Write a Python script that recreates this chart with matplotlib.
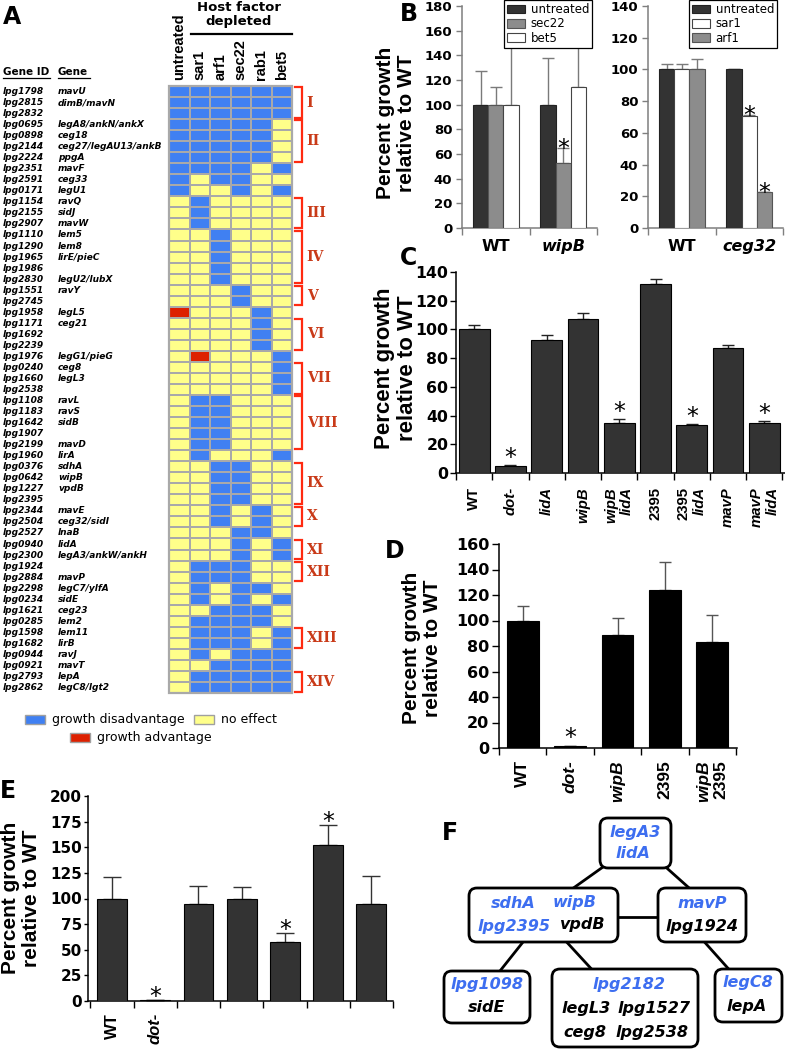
import matplotlib
matplotlib.use('Agg')
import matplotlib.pyplot as plt
from matplotlib.colors import ListedColormap
from matplotlib.patches import Rectangle, FancyBboxPatch
import matplotlib.transforms as mtransforms
import numpy as np

plt.rcParams['font.family'] = ['DejaVu Sans']

# ---------------- data ----------------
gene_ids = ['lpg1798', 'lpg2815', 'lpg2832', 'lpg0695', 'lpg0898', 'lpg2144', 'lpg2224', 'lpg2351', 'lpg2591', 'lpg0171',
            'lpg1154', 'lpg2155', 'lpg2907', 'lpg1110', 'lpg1290', 'lpg1965', 'lpg1986', 'lpg2830', 'lpg1551', 'lpg2745',
            'lpg1958', 'lpg1171', 'lpg1692', 'lpg2239', 'lpg1976', 'lpg0240', 'lpg1660', 'lpg2538', 'lpg1108', 'lpg1183',
            'lpg1642', 'lpg1907', 'lpg2199', 'lpg1960', 'lpg0376', 'lpg0642', 'lpg1227', 'lpg2395', 'lpg2344', 'lpg2504',
            'lpg2527', 'lpg0940', 'lpg2300', 'lpg1924', 'lpg2884', 'lpg2298', 'lpg0234', 'lpg1621', 'lpg0285', 'lpg1598',
            'lpg1682', 'lpg0944', 'lpg0921', 'lpg2793', 'lpg2862']
gene_names = ['mavU', 'dimB/mavN', '', 'legA8/ankN/ankX', 'ceg18', 'ceg27/legAU13/ankB', 'ppgA', 'mavF', 'ceg33', 'legU1',
              'ravQ', 'sidJ', 'mavW', 'lem5', 'lem8', 'lirE/pieC', '', 'legU2/lubX', 'ravY', '',
              'legL5', 'ceg21', '', '', 'legG1/pieG', 'ceg8', 'legL3', '', 'ravL', 'ravS',
              'sidB', '', 'mavD', 'lirA', 'sdhA', 'wipB', 'vpdB', '', 'mavE', 'ceg32/sidI',
              'lnaB', 'lidA', 'legA3/ankW/ankH', '', 'mavP', 'legC7/ylfA', 'sidE', 'ceg23', 'lem2', 'lem11',
              'lirB', 'ravJ', 'mavT', 'lepA', 'legC8/lgt2']
host_factors = ['untreated', 'sar1', 'arf1', 'sec22', 'rab1', 'bet5']
# D = growth disadvantage, N = no effect, A = growth advantage
effects = ['DDDDDD', 'DDDDDD', 'DDDDDD', 'DDDDDN', 'DDDDDN', 'DDDDDN', 'DDDDDN', 'DDDDND', 'DNDDNN', 'DNNDND',
           'NDNNNN', 'NDNNNN', 'NDNNNN', 'NNDNNN', 'NNDNNN', 'NNDNNN', 'NNDNNN', 'NNDNNN', 'NNNDNN', 'NNNDNN',
           'ANNNDN', 'NNNNDN', 'NNNNDN', 'NNNNDN', 'NANNND', 'NNNNND', 'NNNNND', 'NNNNND', 'NDDNNN', 'NDDNNN',
           'NDDNNN', 'NDDNNN', 'NDDNNN', 'NDNNND', 'NNDDNN', 'NNDDNN', 'NNDDNN', 'NNDDNN', 'NNDNDN', 'NNDNDN',
           'NNNDDN', 'NNNDND', 'NNNDND', 'NDDDNN', 'NDDDNN', 'NDNDDN', 'NDNDND', 'NNDDDN', 'NDDDDN', 'NDDDND',
           'NDDDND', 'NDNDDD', 'NNDDDD', 'NDDDDD', 'NDDDDD']
cluster_names = ['I', 'II', 'III', 'IV', 'V', 'VI', 'VII', 'VIII', 'IX', 'X', 'XI', 'XII', 'XIII', 'XIV']
cluster_first = [0, 3, 10, 13, 18, 21, 25, 28, 34, 38, 41, 43, 49, 53]
cluster_last = [2, 6, 12, 17, 19, 23, 27, 32, 37, 39, 42, 44, 50, 54]

# Panel B
b1_groups = ['WT', 'wipB']
b1_series = ['untreated', 'sec22', 'bet5']
b1_untreated = [100, 100]
b1_untreated_err = [27, 38]
b1_sec22 = [100, 52.5]
b1_sec22_err = [14, 12.5]
b1_bet5 = [100, 114]
b1_bet5_err = [90, 80]
b1_sig = [[False, False], [False, True], [False, False]]

b2_groups = ['WT', 'ceg32']
b2_series = ['untreated', 'sar1', 'arf1']
b2_untreated = [100, 100]
b2_untreated_err = [3.4, 0.3]
b2_sar1 = [100, 70.5]
b2_sar1_err = [3.2, 0.6]
b2_arf1 = [100, 22.6]
b2_arf1_err = [6.8, 0.4]
b2_sig = [[False, False], [False, True], [False, True]]

# Panel C
c_labels = ['WT', 'dot-', 'lidA', 'wipB', 'wipB\nlidA', '2395', '2395\nlidA', 'mavP', 'mavP\nlidA']
c_values = [100, 5.1, 92.6, 107, 35, 131.6, 33.2, 87, 35]
c_errors = [3.3, 0.8, 3.8, 4.2, 2.6, 3.8, 1.1, 1.9, 1.3]
c_sig = [False, True, False, False, True, False, True, False, True]

# Panel D
d_labels = ['WT', 'dot-', 'wipB', '2395', 'wipB\n2395']
d_values = [100, 1.2, 88.5, 124, 83.5]
d_errors = [11.5, 0, 13.2, 22, 20.5]
d_sig = [False, True, False, False, False]

# Panel E
e_labels = ['WT', 'dot-', '', '', '', '', '']
e_values = [100, 1.2, 94.5, 100, 57.5, 152, 94.5]
e_errors = [21, 0, 18, 11.5, 9, 20, 27]
e_sig = [False, True, False, False, True, True, False]

# Panel F
f_nodes = [['legA3', 'lidA'], ['sdhA', 'wipB', 'lpg2395', 'vpdB'], ['mavP', 'lpg1924'],
           ['lpg1098', 'sidE'], ['lpg2182', 'legL3', 'lpg1527', 'ceg8', 'lpg2538'], ['legC8', 'lepA']]
f_blue = ['legA3', 'lidA', 'sdhA', 'wipB', 'lpg2395', 'mavP', 'lpg1098', 'lpg2182', 'legC8']
f_edges = [(0, 1), (0, 2), (1, 2), (1, 3), (1, 4), (2, 5)]

# ---------------- figure helpers ----------------
W, H = 785, 1050
fig = plt.figure(figsize=(W / 100, H / 100), dpi=100)


def px(x0, y0, x1, y1):
    return [x0 / W, 1 - y1 / H, (x1 - x0) / W, (y1 - y0) / H]


def ftext(x, y, s, **kw):
    return fig.text(x / W, 1 - y / H, s, **kw)


def plain(tok):
    return tok == 'WT' or tok.isdigit()


BLUE = '#4080f2'
YELLOW = '#ffff8a'
RED = '#dd2000'
GRID = '#a9a9a9'
ROMAN = '#c93a18'
BRACKET = '#ff2a10'

# ---------------- Panel A: heatmap ----------------
code = {'N': 0, 'D': 1, 'A': 2}
mat = np.array([[code[c] for c in row] for row in effects])
nrow, ncol = mat.shape
axh = fig.add_axes(px(169, 86, 292, 693))
axh.pcolormesh(np.arange(ncol + 1), np.arange(nrow + 1), mat,
               cmap=ListedColormap([YELLOW, BLUE, RED]), vmin=-0.5, vmax=2.5,
               edgecolors=GRID, linewidth=1.3)
axh.set_xlim(0, ncol)
axh.set_ylim(nrow, 0)
axh.axis('off')
axh.add_patch(Rectangle((0, 0), ncol, nrow, fill=False, ec=GRID, lw=1.6, clip_on=False))

tr_rows = mtransforms.blended_transform_factory(fig.transFigure, axh.transData)
for i, (gid, gname) in enumerate(zip(gene_ids, gene_names)):
    axh.text(3 / W, i + 0.5, gid, transform=tr_rows, fontsize=6.5, fontweight='bold',
             fontstyle='italic', va='center', ha='left')
    if gname:
        axh.text(58 / W, i + 0.5, gname, transform=tr_rows, fontsize=6.5, fontweight='bold',
                 fontstyle='italic', va='center', ha='left')

for j, hf in enumerate(host_factors):
    axh.text(j + 0.5, -0.5, hf, rotation=90, ha='center', va='bottom', fontsize=10.5,
             fontweight='bold', family='Liberation Sans')
ftext(239, 1, 'Host factor\ndepleted', ha='center', va='top', fontsize=9.5, fontweight='bold',
      linespacing=1.05)
axh.plot([1.07, ncol], [-4.7, -4.7], color='black', lw=1.6, clip_on=False)

ftext(3, 75, 'Gene ID', fontsize=7.5, fontweight='bold', va='baseline', ha='left')
ftext(58, 75, 'Gene', fontsize=7.5, fontweight='bold', va='baseline', ha='left')
fig.add_artist(plt.Line2D([3 / W, 50 / W], [1 - 78 / H, 1 - 78 / H], color='black', lw=0.9))
fig.add_artist(plt.Line2D([58 / W, 90 / W], [1 - 78 / H, 1 - 78 / H], color='black', lw=0.9))

tr_br = mtransforms.blended_transform_factory(axh.transAxes, axh.transData)
for name, a, b in zip(cluster_names, cluster_first, cluster_last):
    y0, y1 = a + 0.12, b + 1 - 0.12
    axh.plot([1.024, 1.083, 1.083, 1.024], [y0, y0, y1, y1], transform=tr_br, color=BRACKET,
             lw=1.6, clip_on=False, solid_joinstyle='miter')
    axh.text(1.12, (a + b + 1) / 2, name, transform=tr_br, family='DejaVu Serif', fontweight='bold',
             fontsize=10, color=ROMAN, va='center', ha='left')

# legend of heatmap
for (x0, y0, c, lab) in [(25, 715, BLUE, 'growth disadvantage'), (194, 715, YELLOW, 'no effect'),
                         (70, 733, RED, 'growth advantage')]:
    fig.add_artist(Rectangle((x0 / W, 1 - (y0 + 9) / H), 20 / W, 9 / H, transform=fig.transFigure,
                             fc=c, ec='#a0a0a0', lw=1))
    ftext(x0 + 27, y0 + 4.5, lab, fontsize=9, va='center', ha='left')

# ---------------- generic bar helpers ----------------
def style_axes(ax, ymax, ystep, fs, spine='black', ticklen=4, pad=2):
    for s in ['top', 'right']:
        ax.spines[s].set_visible(False)
    for s in ['left', 'bottom']:
        ax.spines[s].set_color(spine)
        ax.spines[s].set_linewidth(1.1)
    ax.set_ylim(0, ymax)
    ax.set_yticks(np.arange(0, ymax + 0.1, ystep))
    ax.tick_params(axis='y', direction='out', length=ticklen, width=1, color=spine, labelsize=fs, pad=pad)
    plt.setp(ax.get_yticklabels(), fontweight='bold')
    ax.tick_params(axis='x', which='major', length=0)
    ax.tick_params(axis='x', which='minor', direction='out', length=5, width=1, color=spine)


def rot_labels(ax, labels, fs, pad_px, pitch_px):
    for i, lab in enumerate(labels):
        lines = lab.split('\n') if lab else []
        n = len(lines)
        for k, ln in enumerate(lines):
            dx = (k - (n - 1) / 2) * pitch_px
            tr = ax.get_xaxis_transform() + mtransforms.ScaledTranslation(dx / 100, -pad_px / 100,
                                                                         fig.dpi_scale_trans)
            ax.text(i, 0, ln, transform=tr, rotation=90, ha='center', va='top', fontsize=fs,
                    fontweight='bold', family='Liberation Sans',
                    fontstyle='normal' if plain(ln) else 'italic')


def stars(ax, xs, tops, sig, off_px, fs=17):
    for x, t, s in zip(xs, tops, sig):
        if s:
            tr = ax.transData + mtransforms.ScaledTranslation(0, off_px / 100, fig.dpi_scale_trans)
            ax.text(x, t, '*', transform=tr, ha='center', va='baseline', fontsize=fs)


def ylabel(x, y, fs):
    ftext(x, y, 'Percent growth\nrelative to WT', rotation=90, ha='center', va='center',
          fontsize=fs, fontweight='bold', family='Liberation Sans', linespacing=1.1)


# ---------------- Panel B ----------------
def grouped(ax, groups, series, vals, errs, sigs, colors, edges, ymax, step, legend_anchor):
    style_axes(ax, ymax, step, 9.5, spine='#7f7f7f', ticklen=4, pad=3)
    n = len(series)
    w = 0.225
    x = np.arange(len(groups))
    handles = []
    for k in range(n):
        xs = x + (k - (n - 1) / 2) * w
        hb = ax.bar(xs, vals[k], width=w, color=colors[k], edgecolor=edges[k], linewidth=0.8, zorder=3,
                    label=series[k])
        handles.append(hb)
        ax.errorbar(xs, vals[k], yerr=[np.zeros(len(groups)), errs[k]], fmt='none', ecolor='#7a7a7a',
                    elinewidth=1, capsize=4, capthick=1, zorder=2)
        stars(ax, xs, np.array(vals[k]) + np.array(errs[k]), sigs[k], -8)
    ax.set_xlim(-0.5, len(groups) - 0.5)
    ax.set_xticks(x)
    ax.set_xticklabels(groups, fontsize=11.5, fontweight='bold')
    for lbl, g in zip(ax.get_xticklabels(), groups):
        lbl.set_fontstyle('normal' if plain(g) else 'italic')
    ax.tick_params(axis='x', which='major', pad=8)
    ax.set_xticks(np.arange(-0.5, len(groups), 1), minor=True)
    leg = ax.legend(handles=handles, loc='upper right', bbox_to_anchor=legend_anchor, frameon=True,
                    fancybox=False, edgecolor='black', framealpha=1, fontsize=8.5, handlelength=1.5,
                    handleheight=0.75, labelspacing=0.12, borderpad=0.25, handletextpad=0.5,
                    borderaxespad=0)
    leg.get_frame().set_linewidth(0.9)
    leg.set_zorder(10)


DARK = '#333333'
GRAY = '#8c8c8c'
axb1 = fig.add_axes(px(462, 6, 597, 228))
grouped(axb1, b1_groups, b1_series, [b1_untreated, b1_sec22, b1_bet5],
        [b1_untreated_err, b1_sec22_err, b1_bet5_err], b1_sig,
        [DARK, GRAY, 'white'], ['#222222', '#555555', '#444444'], 180, 20, (0.963, 1.027))
axb2 = fig.add_axes(px(648, 6, 783, 228))
grouped(axb2, b2_groups, b2_series, [b2_untreated, b2_sar1, b2_arf1],
        [b2_untreated_err, b2_sar1_err, b2_arf1_err], b2_sig,
        [DARK, 'white', GRAY], ['#222222', '#444444', '#555555'], 140, 20, (0.956, 1.027))
ylabel(396, 123, 15)

# ---------------- Panel C ----------------
axc = fig.add_axes(px(456, 272, 785, 473))
style_axes(axc, 140, 20, 11.3, ticklen=4, pad=1.5)
xc = np.arange(len(c_labels))
axc.bar(xc, c_values, width=0.85, color=DARK, edgecolor='black', linewidth=0.8, zorder=3)
axc.errorbar(xc, c_values, yerr=[np.zeros(len(xc)), c_errors], fmt='none', ecolor='#222222',
             elinewidth=1, capsize=4, capthick=1, zorder=2)
stars(axc, xc, np.array(c_values) + np.array(c_errors), c_sig, 0)
axc.set_xlim(-0.43, len(c_labels) - 0.43)
axc.set_xticks(xc, [''] * len(xc))
axc.set_xticks(np.arange(-0.5, len(xc), 1), minor=True)
rot_labels(axc, c_labels, 10.7, 14, 16)
ylabel(396, 368, 16)

# ---------------- Panel D ----------------
axd = fig.add_axes(px(499, 544, 737, 748))
style_axes(axd, 160, 20, 11.5, ticklen=5, pad=2)
xd = np.arange(len(d_labels))
axd.bar(xd, d_values, width=0.67, color='black', edgecolor='black', linewidth=0.8, zorder=3)
axd.errorbar(xd, d_values, yerr=[np.zeros(len(xd)), d_errors], fmt='none', ecolor='#555555',
             elinewidth=1, capsize=4.5, capthick=1, zorder=2)
stars(axd, xd, np.array(d_values) + np.array(d_errors), d_sig, 1)
axd.set_xlim(-0.48, len(d_labels) - 0.48)
axd.set_xticks(xd, [''] * len(xd))
axd.set_xticks(np.arange(-0.5, len(xd), 1), minor=True)
rot_labels(axd, d_labels, 12.5, 12, 17)
ylabel(422, 648, 15)

# ---------------- Panel E ----------------
axe = fig.add_axes(px(88, 796, 393, 1001))
style_axes(axe, 200, 25, 11, ticklen=3, pad=1.5)
xe = np.arange(len(e_labels))
axe.bar(xe, e_values, width=0.69, color=DARK, edgecolor='black', linewidth=0.8, zorder=3)
axe.errorbar(xe, e_values, yerr=[np.zeros(len(xe)), e_errors], fmt='none', ecolor='#333333',
             elinewidth=1, capsize=6.5, capthick=1, zorder=2)
stars(axe, xe, np.array(e_values) + np.array(e_errors), e_sig, -4)
axe.set_xlim(-0.556, len(e_labels) - 0.5)
axe.set_xticks(xe, [''] * len(xe))
axe.set_xticks(np.arange(-0.5, len(xe), 1), minor=True)
rot_labels(axe, e_labels, 12, 12, 17)
ylabel(21, 898, 15)

# ---------------- Panel F ----------------
axf = fig.add_axes(px(440, 810, 785, 1050))
axf.set_xlim(440, 785)
axf.set_ylim(1050, 810)
axf.axis('off')
box_rects = [(600, 818, 671, 868), (469, 888, 618, 942), (658, 888, 746, 942),
             (444, 971, 530, 1023), (552, 969, 698, 1047), (715, 969, 782, 1022)]
edge_pts = {(0, 1): ((610, 862), (565, 894)), (0, 2): ((660, 862), (697, 895)),
            (1, 2): ((612, 917), (664, 917)), (1, 3): ((527, 937), (496, 976)),
            (1, 4): ((562, 937), (597, 975)), (2, 5): ((700, 937), (734, 975))}
text_pos = [[(635, 833), (633, 854)],
            [(513, 903), (575, 903), (514, 926), (583, 925)],
            [(702, 903), (702, 927)],
            [(487, 985), (487, 1008)],
            [(629, 985), (586, 1008), (654, 1008), (585, 1032), (652, 1032)],
            [(748, 983), (747, 1006)]]
for e in f_edges:
    (xa, ya), (xb, yb) = edge_pts[e]
    axf.plot([xa, xb], [ya, yb], color='black', lw=2, zorder=1, solid_capstyle='butt')
for (x0, y0, x1, y1), genes, poss in zip(box_rects, f_nodes, text_pos):
    axf.add_patch(FancyBboxPatch((x0, y0), x1 - x0, y1 - y0,
                                 boxstyle='round,pad=0,rounding_size=8', fc='white', ec='black',
                                 lw=2, zorder=2))
    for g, (tx, ty) in zip(genes, poss):
        axf.text(tx, ty, g, ha='center', va='center', fontsize=11.5, fontweight='bold',
                 fontstyle='italic', color='#3d6ef0' if g in f_blue else 'black', zorder=3)

# ---------------- panel letters ----------------
for letter, (x, y) in zip('ABCDEF', [(3, 5), (400, 2), (400, 246), (385, 539), (0, 779), (442, 821)]):
    ftext(x, y, letter, fontsize=17, fontweight='bold', ha='left', va='top')

fig.savefig('out.png', dpi=100)
